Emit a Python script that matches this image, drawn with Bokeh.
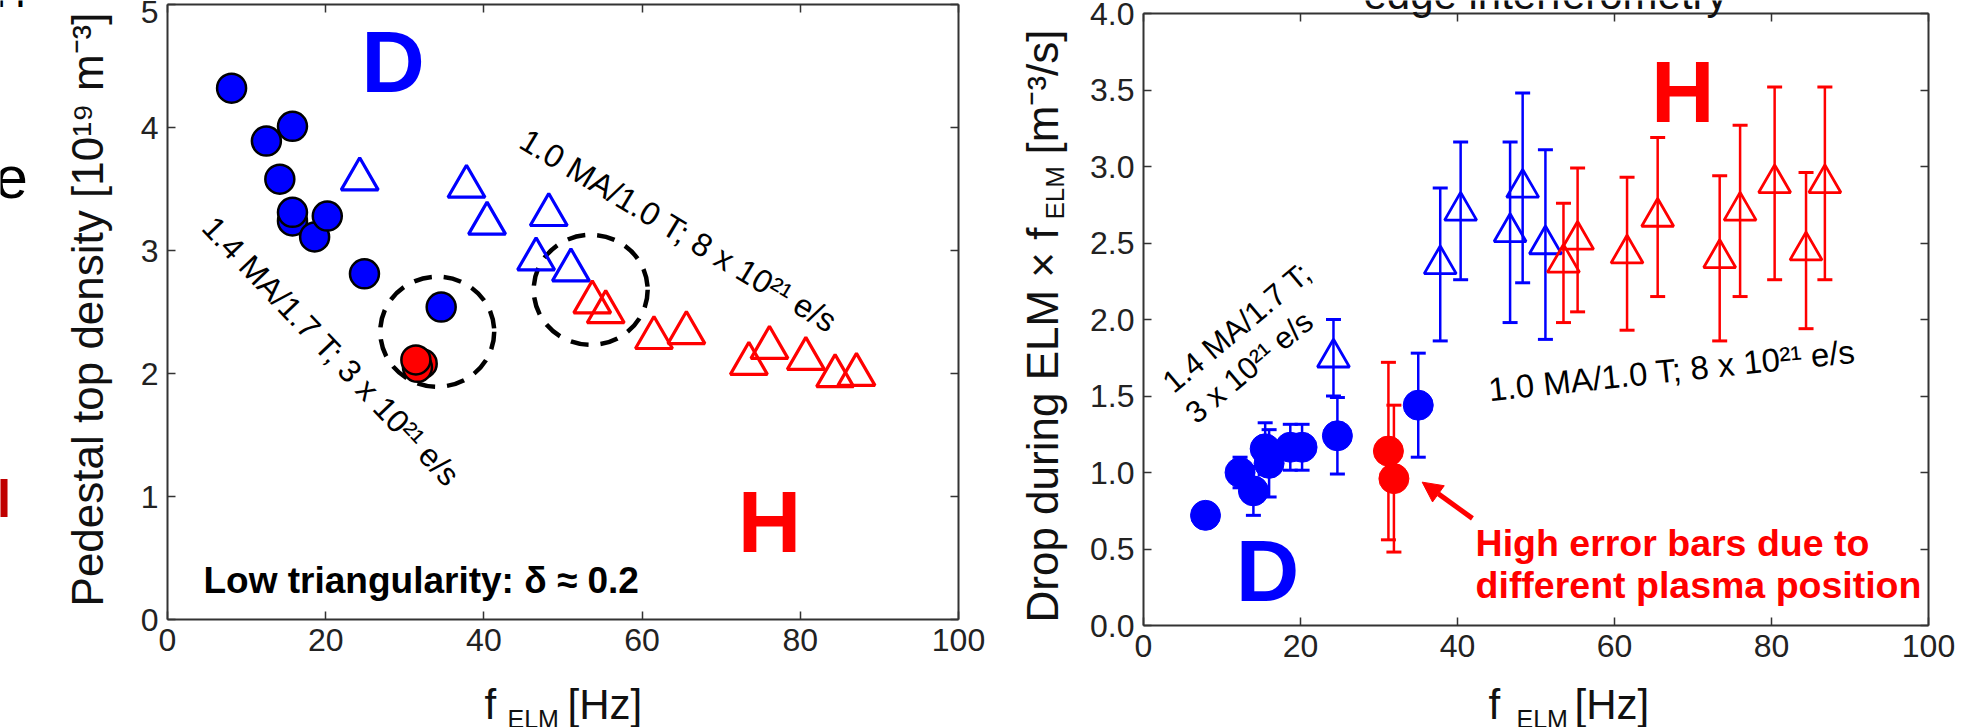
import math
from bokeh.plotting import figure
from bokeh.models import (Range1d, LinearAxis, Label, Whisker, TeeHead, ColumnDataSource,
                          Arrow, NormalHead, FixedTicker, PrintfTickFormatter, CustomJSTickFormatter)
from bokeh.layouts import row
from bokeh.embed import file_html
from bokeh.resources import INLINE

# ---------------- data: left panel (pedestal top density) ----------------
L_blue_circ_f = [8.1, 12.5, 15.8, 14.2, 15.8, 15.8, 18.6, 20.2, 24.9, 34.6]
L_blue_circ_n = [4.32, 3.89, 4.01, 3.58, 3.24, 3.31, 3.11, 3.28, 2.81, 2.54]
L_red_circ_f = [32.2, 31.6, 31.4]
L_red_circ_n = [2.08, 2.05, 2.11]
L_blue_tri_f = [24.3, 37.8, 40.4, 48.2, 46.6, 51.0]
L_blue_tri_n = [3.58, 3.52, 3.22, 3.29, 2.93, 2.84]
L_red_tri_f = [53.7, 55.4, 61.5, 65.6, 73.5, 76.1, 80.7, 84.4, 87.1]
L_red_tri_n = [2.58, 2.50, 2.29, 2.33, 2.08, 2.21, 2.12, 1.98, 1.99]
L_circle_f = [34.1, 53.5]       # dashed circles (centres)
L_circle_n = [2.34, 2.68]
L_xticks = [0, 20, 40, 60, 80, 100]
L_yticks = [0, 1, 2, 3, 4, 5]

# ---------------- data: right panel (drop during ELM x f_ELM) ----------------
R_blue_circ_f = [7.9, 12.3, 14.0, 15.5, 16.0, 18.7, 20.2, 24.7, 35.0]
R_blue_circ_d = [0.72, 1.00, 0.88, 1.155, 1.06, 1.165, 1.165, 1.24, 1.44]
R_blue_circ_e = [0.0, 0.10, 0.16, 0.17, 0.22, 0.15, 0.15, 0.25, 0.34]
R_red_circ_f = [31.2, 31.9]
R_red_circ_d = [1.14, 0.96]
R_red_circ_e = [0.58, 0.48]
R_blue_tri_f = [24.2, 37.8, 40.4, 46.7, 48.3, 51.2]
R_blue_tri_d = [1.75, 2.36, 2.71, 2.57, 2.86, 2.49]
R_blue_tri_e = [0.25, 0.50, 0.45, 0.59, 0.62, 0.62]
R_red_tri_f = [53.5, 55.3, 61.6, 65.5, 73.4, 76.0, 80.4, 84.4, 86.8]
R_red_tri_d = [2.37, 2.52, 2.43, 2.67, 2.40, 2.71, 2.89, 2.45, 2.89]
R_red_tri_e = [0.39, 0.47, 0.50, 0.52, 0.54, 0.56, 0.63, 0.51, 0.63]
R_xticks = [0, 20, 40, 60, 80, 100]
R_yticks = [0.0, 0.5, 1.0, 1.5, 2.0, 2.5, 3.0, 3.5, 4.0]

BLUE = "#0000ff"
RED = "#ff0000"
AX = "#333333"
FONT = "Liberation Sans"
H = 727
BASE_SHIFT = 0.28   # em; lifts 'alphabetic' labels so that their baseline sits where intended


def style_axis(ax, ticks, loc, bounds, labels=True, fmt=None):
    ax.ticker = FixedTicker(ticks=ticks)
    ax.fixed_location = loc
    ax.bounds = bounds
    ax.axis_line_color = AX
    ax.axis_line_width = 2
    ax.major_tick_in = 8
    ax.major_tick_out = 0
    ax.major_tick_line_color = AX
    ax.major_tick_line_width = 1.5
    ax.minor_tick_line_color = None
    if labels:
        ax.major_label_text_font = FONT
        ax.major_label_text_font_size = "32px"
        ax.major_label_text_color = "#222222"
        ax.major_label_standoff = 9
        if fmt is not None:
            ax.formatter = fmt
    else:
        ax.major_label_text_font_size = "0px"
        ax.major_label_standoff = 0
        ax.formatter = CustomJSTickFormatter(code="return ''")


def make_fig(width, px0, px100, py0, pytop, ytop, xticks, yticks, yfmt=None):
    # the frame covers the whole canvas; axes are pinned at the data box edges
    sx = (px100 - px0) / 100.0
    sy = (py0 - pytop) / ytop
    xr = Range1d(-px0 / sx, (width - px0) / sx)
    yr = Range1d(-(H - py0) / sy, py0 / sy)
    p = figure(width=width, height=H, x_range=xr, y_range=yr,
               output_backend="svg", toolbar_location=None,
               min_border_left=0, min_border_right=0, min_border_top=0, min_border_bottom=0)
    if p.title is not None:
        p.title.visible = False
    p.grid.visible = False
    p.outline_line_color = None
    p.background_fill_color = "white"
    p.border_fill_color = "white"
    style_axis(p.xaxis[0], xticks, 0, (0, 100))
    style_axis(p.yaxis[0], yticks, 0, (0, ytop), fmt=yfmt)
    ta = LinearAxis()
    style_axis(ta, xticks, ytop, (0, 100), labels=False)
    p.add_layout(ta, "above")
    ra = LinearAxis()
    style_axis(ra, yticks, 100, (0, ytop), labels=False)
    p.add_layout(ra, "right")
    return p


def lab(p, text, x, y, size, units="data", color="black", style="normal", angle=0,
        align="left", baseline="alphabetic"):
    if units == "screen":       # x, y given as canvas pixels from the top-left corner
        y = H - y
    xo = yo = 0.0
    if baseline == "alphabetic":
        a = math.radians(angle)
        xo = -math.sin(a) * BASE_SHIFT * size
        yo = math.cos(a) * BASE_SHIFT * size
    p.add_layout(Label(x=x, y=y, x_units=units, y_units=units, text=text,
                       x_offset=xo, y_offset=yo,
                       text_font=FONT, text_font_size=f"{size}px", text_color=color,
                       text_font_style=style, angle=angle, angle_units="deg",
                       text_align=align, text_baseline=baseline))


# ======================= LEFT PANEL =======================
pl = make_fig(1000, 167, 958, 619, 4, 5, L_xticks, L_yticks)

pl.ellipse(x=L_circle_f, y=L_circle_n, width=114, height=110, width_units="screen",
           height_units="screen", fill_color=None, line_color="black", line_width=4.5,
           line_dash="18 12")
pl.scatter(L_blue_circ_f, L_blue_circ_n, marker="circle", size=29, fill_color=BLUE,
           line_color="black", line_width=2.5)
pl.scatter(L_red_circ_f, L_red_circ_n, marker="circle", size=29, fill_color=RED,
           line_color="black", line_width=2.5)
pl.scatter(L_blue_tri_f, L_blue_tri_n, marker="triangle", size=37, fill_color=None,
           line_color=BLUE, line_width=3.2)
pl.scatter(L_red_tri_f, L_red_tri_n, marker="triangle", size=37, fill_color=None,
           line_color=RED, line_width=3.2)

lab(pl, "D", 28.5, 4.54, 88, color=BLUE, style="bold", align="center", baseline="middle")
lab(pl, "H", 76.1, 0.80, 88, color=RED, style="bold", align="center", baseline="middle")
lab(pl, "Low triangularity: δ ≈ 0.2", 4.55, 0.23, 37, style="bold")
lab(pl, "1.4 MA/1.7 T; 3 x 10²¹ e/s", 20.7, 2.18, 32, angle=-46.5,
    align="center", baseline="middle")
lab(pl, "1.0 MA/1.0 T; 8 x 10²¹ e/s", 64.6, 3.16, 32.5, angle=-31,
    align="center", baseline="middle")

# axis titles (canvas pixels)
lab(pl, "Pedestal top density [10¹⁹ m⁻³]", 87, 309, 44, units="screen", angle=90,
    align="center", baseline="middle", color="#111111")
lab(pl, "f", 484, 716, 42, units="screen", color="#111111")
lab(pl, "ELM", 507, 725, 25, units="screen", color="#111111")
lab(pl, "[Hz]", 567, 716, 42, units="screen", color="#111111")

# slide fragments at the far left edge
lab(pl, "H", -5, 4, 42, units="screen", color="black")
lab(pl, "e", -6, 194, 60, units="screen", color="black")
lab(pl, "H", -29, 513, 55, units="screen", color="#c00000", style="bold")

# ======================= RIGHT PANEL =======================
pr = make_fig(968, 143, 928, 625, 13, 4, R_xticks, R_yticks,
              yfmt=PrintfTickFormatter(format="%.1f"))


def errbars(p, f, d, e, color):
    src = ColumnDataSource(dict(x=f, lo=[a - b for a, b in zip(d, e)], hi=[a + b for a, b in zip(d, e)]))
    w = Whisker(source=src, base="x", upper="hi", lower="lo", dimension="height",
                line_color=color, line_width=2.5, level="underlay",
                upper_head=TeeHead(size=15, line_color=color, line_width=3),
                lower_head=TeeHead(size=15, line_color=color, line_width=3))
    p.add_layout(w)


errbars(pr, R_blue_circ_f, R_blue_circ_d, R_blue_circ_e, BLUE)
errbars(pr, R_red_circ_f, R_red_circ_d, R_red_circ_e, RED)
errbars(pr, R_blue_tri_f, R_blue_tri_d, R_blue_tri_e, BLUE)
errbars(pr, R_red_tri_f, R_red_tri_d, R_red_tri_e, RED)

pr.scatter(R_blue_circ_f, R_blue_circ_d, marker="circle", size=30, fill_color=BLUE, line_color=BLUE)
pr.scatter(R_red_circ_f, R_red_circ_d, marker="circle", size=30, fill_color=RED, line_color=RED)
pr.scatter(R_blue_tri_f, R_blue_tri_d, marker="triangle", size=32, fill_color=None,
           line_color=BLUE, line_width=2.8)
pr.scatter(R_red_tri_f, R_red_tri_d, marker="triangle", size=32, fill_color=None,
           line_color=RED, line_width=2.8)

lab(pr, "H", 68.7, 3.49, 88, color=RED, style="bold", align="center", baseline="middle")
lab(pr, "D", 15.8, 0.36, 88, color=BLUE, style="bold", align="center", baseline="middle")
lab(pr, "1.0 MA/1.0 T; 8 x 10²¹ e/s", 67.3, 1.667, 33, angle=6,
    align="center", baseline="middle")
lab(pr, "1.4 MA/1.7 T;", 3.7, 1.52, 31, angle=40)
lab(pr, "3 x 10²¹ e/s", 6.6, 1.32, 31, angle=40)
lab(pr, "High error bars due to", 42.3, 0.47, 37.5, color=RED, style="bold")
lab(pr, "different plasma position", 42.3, 0.196, 37.5, color=RED, style="bold")
pr.add_layout(Arrow(end=NormalHead(size=20, fill_color=RED, line_color=RED),
                    x_start=41.9, y_start=0.70, x_end=35.5, y_end=0.937,
                    line_color=RED, line_width=5))

# axis titles (canvas pixels, relative to this figure)
lab(pr, "Drop during ELM × f", 54, 622, 44, units="screen", angle=90, color="#111111")
lab(pr, "ELM", 62, 219, 26, units="screen", angle=90, color="#111111")
lab(pr, "[m⁻³/s]", 54, 154, 44, units="screen", angle=90, color="#111111")
lab(pr, "f", 488, 716, 42, units="screen", color="#111111")
lab(pr, "ELM", 516, 725, 25, units="screen", color="#111111")
lab(pr, "[Hz]", 574, 716, 42, units="screen", color="#111111")
# cut-off slide title
lab(pr, "edge interferometry", 545, 6, 42, units="screen", align="center", color="#111111")

layout = row(pl, pr, spacing=0)
open("out.html", "w").write(file_html(layout, INLINE))
